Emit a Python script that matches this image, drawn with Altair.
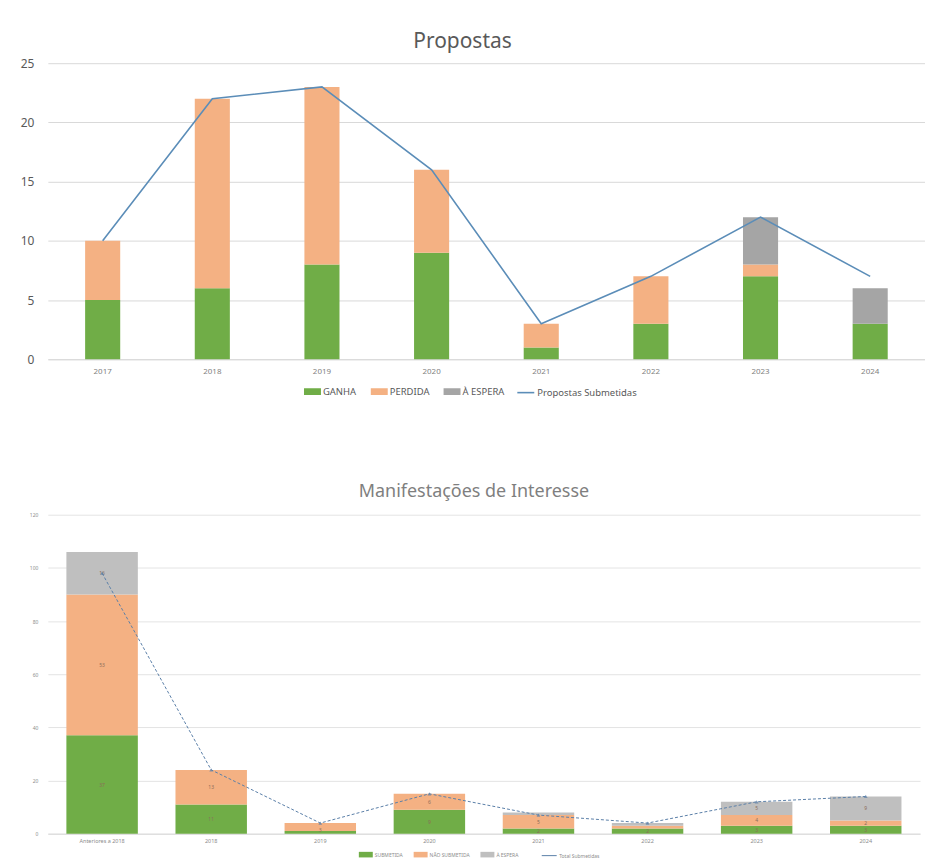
import altair as alt
import pandas as pd

# ---- Propostas ----
anos = ["2017", "2018", "2019", "2020", "2021", "2022", "2023", "2024"]
ganha = [5, 6, 8, 9, 1, 3, 7, 3]
perdida = [5, 16, 15, 7, 2, 4, 1, 0]
espera = [0, 0, 0, 0, 0, 0, 4, 3]
propostas_submetidas = [10, 22, 23, 16, 3, 7, 12, 7]
series_top = ["GANHA", "PERDIDA", "À ESPERA"]

# ---- Manifestações de Interesse ----
periodos = ["Anteriores a 2018", "2018", "2019", "2020", "2021", "2022", "2023", "2024"]
mi_submetida = [37, 11, 1, 9, 2, 2, 3, 3]
mi_nao_submetida = [53, 13, 3, 6, 5, 1, 4, 2]
mi_espera = [16, 0, 0, 0, 1, 1, 5, 9]
mi_total = [98, 24, 4, 15, 7, 4, 12, 14]
series_bot = ["SUBMETIDA", "NÃO SUBMETIDA", "À ESPERA"]

GREEN, ORANGE, GRAY, GRAY2 = "#70AD47", "#F4B183", "#A5A5A5", "#BFBFBF"
LINE = "#5B8DB8"
TXT = "#595959"
GRID = "#D9D9D9"
FONT = "Noto Sans"
RECT = "M-1,-0.4H1V0.4H-1Z"

rows = []
for i, a in enumerate(anos):
    for k, (s, vals) in enumerate(zip(series_top, [ganha, perdida, espera])):
        if vals[i] > 0:
            rows.append({"ano": a, "serie": s, "valor": vals[i], "ordem": k})
top_df = pd.DataFrame(rows)
top_line = pd.DataFrame({"ano": anos, "valor": propostas_submetidas,
                         "linha": ["Propostas Submetidas"] * len(anos)})

rows = []
for i, p in enumerate(periodos):
    for k, (s, vals) in enumerate(zip(series_bot, [mi_submetida, mi_nao_submetida, mi_espera])):
        if vals[i] > 0:
            rows.append({"periodo": p, "serie2": s, "v": vals[i], "ordem": k})
bot_df = pd.DataFrame(rows)
bot_line = pd.DataFrame({"periodo": periodos, "v": mi_total,
                         "linha2": ["Total Submetidas"] * len(periodos)})

TOP_H = 297
BOT_H = 320

# ---------------- top chart ----------------
xt = alt.X("ano:N", sort=anos,
           scale=alt.Scale(paddingInner=0.68, paddingOuter=0.34),
           axis=alt.Axis(title=None, labelAngle=0, labelFontSize=8, labelColor="#7F7F7F",
                         domainColor=GRID, ticks=False, labelPadding=8, labelFont=FONT))
yt = alt.Y("valor:Q", stack="zero", scale=alt.Scale(domain=[0, 25], nice=False),
           axis=alt.Axis(title=None, values=[0, 5, 10, 15, 20, 25], gridColor=GRID,
                         domain=False, ticks=False, labelFontSize=12, labelColor=TXT,
                         labelPadding=14, minExtent=40, maxExtent=40, labelFont=FONT))

bars_top = alt.Chart(top_df).mark_bar().encode(
    x=xt, y=yt,
    color=alt.Color("serie:N",
                    scale=alt.Scale(domain=series_top, range=[GREEN, ORANGE, GRAY]),
                    legend=alt.Legend(title=None, orient="none", direction="horizontal",
                                      legendX=257, legendY=TOP_H + 24, symbolType=RECT,
                                      symbolSize=289, symbolStrokeWidth=0,
                                      labelFontSize=9.5, labelColor=TXT, labelFont=FONT,
                                      columnPadding=14, labelOffset=2)),
    order=alt.Order("ordem:Q"),
)
line_top = alt.Chart(top_line).mark_line(strokeWidth=1.6).encode(
    x=alt.X("ano:N", sort=anos),
    y=alt.Y("valor:Q"),
    stroke=alt.Stroke("linha:N", scale=alt.Scale(domain=["Propostas Submetidas"], range=[LINE]),
                      legend=alt.Legend(title=None, orient="none", direction="horizontal",
                                        legendX=470, legendY=TOP_H + 24, symbolType="stroke",
                                        symbolSize=289, symbolStrokeWidth=1.6,
                                        labelFontSize=9.5, labelColor=TXT, labelFont=FONT,
                                        labelOffset=2)),
)
top = alt.layer(bars_top, line_top).properties(
    width=880, height=TOP_H,
    title=alt.Title("Propostas", fontSize=21, color=TXT, font=FONT, fontWeight="normal",
                    anchor="middle", dx=-24, offset=5),
).resolve_scale(color="independent", stroke="independent")

# ---------------- bottom chart ----------------
xb = alt.X("periodo:N", sort=periodos,
           scale=alt.Scale(paddingInner=0.345, paddingOuter=0.17),
           axis=alt.Axis(title=None, labelAngle=0, labelFontSize=5.5, labelColor="#8C8C8C",
                         domainColor=GRID, ticks=False, labelPadding=5, labelFont=FONT))
yb = alt.Y("v:Q", stack="zero", scale=alt.Scale(domain=[0, 120], nice=False),
           axis=alt.Axis(title=None, values=[0, 20, 40, 60, 80, 100, 120], gridColor="#E4E4E4",
                         domain=False, ticks=False, labelFontSize=5, labelColor="#8C8C8C",
                         labelPadding=10, minExtent=43, maxExtent=43, labelFont=FONT))

bars_bot = alt.Chart(bot_df).mark_bar().encode(
    x=xb, y=yb,
    color=alt.Color("serie2:N",
                    scale=alt.Scale(domain=series_bot, range=[GREEN, ORANGE, GRAY2]),
                    legend=alt.Legend(title=None, orient="none", direction="horizontal",
                                      legendX=312, legendY=BOT_H + 14, symbolType=RECT,
                                      symbolSize=196, symbolStrokeWidth=0,
                                      labelFontSize=5, labelColor="#8C8C8C", labelFont=FONT,
                                      columnPadding=10, labelOffset=2)),
    order=alt.Order("ordem:Q"),
)
labels_bot = alt.Chart(bot_df).transform_filter("datum.v >= 2").mark_text(
    fontSize=5, color="#8C6E5A", font=FONT).encode(
    x=alt.X("periodo:N", sort=periodos),
    y=alt.Y("v:Q", stack="zero", bandPosition=0.5),
    text=alt.Text("v:Q"),
    order=alt.Order("ordem:Q"),
)
line_bot = alt.Chart(bot_line).mark_line(strokeWidth=1, strokeDash=[3, 2]).encode(
    x=alt.X("periodo:N", sort=periodos),
    y=alt.Y("v:Q"),
    stroke=alt.Stroke("linha2:N", scale=alt.Scale(domain=["Total Submetidas"], range=["#5A7FA8"]),
                      legend=alt.Legend(title=None, orient="none", direction="horizontal",
                                        legendX=495, legendY=BOT_H + 14, symbolType="stroke",
                                        symbolSize=225, symbolStrokeWidth=1,
                                        labelFontSize=5, labelColor="#8C8C8C", labelFont=FONT,
                                        labelOffset=2)),
)
pts_bot = alt.Chart(bot_line).mark_point(shape="triangle-up", size=14, filled=True,
                                         color="#5A7FA8").encode(
    x=alt.X("periodo:N", sort=periodos),
    y=alt.Y("v:Q"),
)
bottom = alt.layer(bars_bot, labels_bot, line_bot, pts_bot).properties(
    width=875, height=BOT_H,
    title=alt.Title("Manifestações de Interesse", fontSize=18, color="#7F7F7F", font=FONT,
                    fontWeight="normal", anchor="middle", dx=-10, offset=12),
).resolve_scale(color="independent", stroke="independent")

chart = alt.vconcat(top, bottom, spacing=86).resolve_scale(
    x="independent", y="independent", color="independent", stroke="independent"
).properties(
    padding={"left": 5, "top": 30, "right": 0, "bottom": 5},
    background="white",
).configure_view(stroke=None)

chart.save("out.html", embed_options={"renderer": "svg", "actions": False})
